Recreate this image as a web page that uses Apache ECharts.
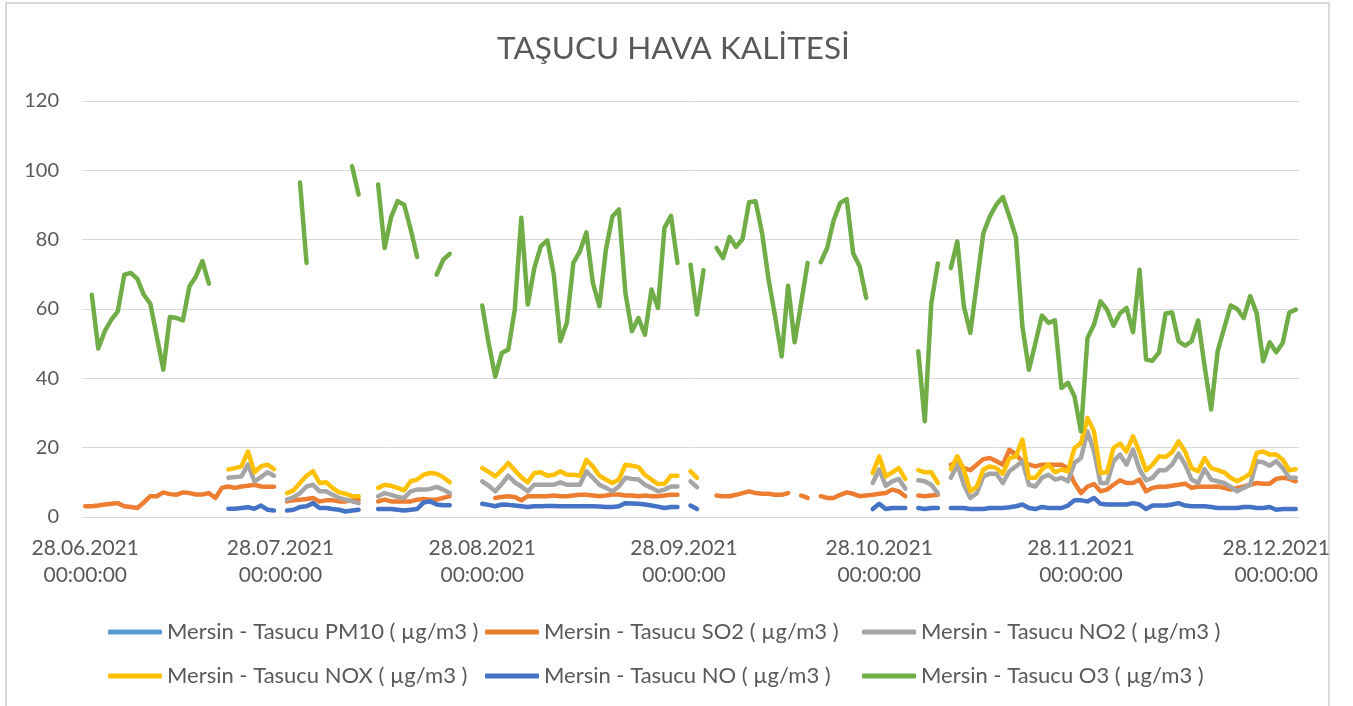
<!DOCTYPE html>
<html>
<head>
<meta charset="utf-8">
<title>TAŞUCU HAVA KALİTESİ</title>
<script src="https://cdn.jsdelivr.net/npm/echarts@6/dist/echarts.min.js"></script>
<style>
  html, body { margin: 0; padding: 0; background: #fff; }
  #chart { width: 1353px; height: 706px; }
</style>
</head>
<body>
<div id="chart"></div>
<script>
// gunluk veriler: 28.06.2021 - 31.12.2021 (187 gun)
var startDay = [2021, 5, 28];
var dayCount = 187;

var seriesNames = [
    'Mersin - Tasucu PM10 ( µg/m3 )',
    'Mersin - Tasucu SO2 ( µg/m3 )',
    'Mersin - Tasucu NO2 ( µg/m3 )',
    'Mersin - Tasucu NOX ( µg/m3 )',
    'Mersin - Tasucu NO ( µg/m3 )',
    'Mersin - Tasucu O3 ( µg/m3 )'
];
var seriesColors = ['#5B9BD5', '#ED7D31', '#A5A5A5', '#FFC000', '#4472C4', '#70AD47'];

var yTicks = [0, 20, 40, 60, 80, 100, 120];

// PM10 olcumu yok
var pm10 = [];

var so2 = [
    3.1, 3.1, 3.3, 3.6, 3.8, 4.0, 3.1, 2.9, 2.6, 4.2,
    6.0, 6.0, 7.1, 6.6, 6.4, 7.1, 6.9, 6.5, 6.5, 6.9,
    5.5, 8.4, 8.8, 8.4, 8.8, 9.0, 9.3, 8.8, 8.7, 8.7,
    null, 4.5, 4.8, 5.0, 5.2, 5.5, 4.5, 4.8, 4.8, 4.5,
    4.5, 4.8, 5.0, null, null, 4.5, 5.0, 4.5, 4.5, 4.5,
    4.5, 5.0, 5.2, 5.0, 5.0, 5.5, 6.0, null, null, null,
    null, null, null, 5.5, 5.8, 6.0, 5.8, 4.8, 6.0, 6.0,
    6.0, 6.0, 6.2, 6.0, 6.0, 6.2, 6.4, 6.4, 6.2, 6.0,
    6.2, 6.5, 6.5, 6.2, 6.2, 6.0, 6.2, 6.0, 6.0, 6.2,
    6.4, 6.4, null, null, null, null, null, 6.2, 6.0, 6.0,
    6.4, 6.9, 7.4, 6.9, 6.7, 6.7, 6.4, 6.4, 6.9, null,
    6.2, 5.5, null, 6.0, 5.5, 5.5, 6.4, 7.1, 6.7, 6.0,
    6.2, 6.4, 6.7, 6.9, 7.9, 7.4, 6.0, null, 6.2, 6.0,
    6.2, 6.4, null, 15.1, 15.6, 14.1, 13.5, 15.1, 16.7, 17.0,
    16.1, 15.1, 19.4, 18.0, 16.1, 15.1, 14.6, 15.1, 15.1, 15.1,
    15.1, 14.1, 9.8, 6.9, 8.8, 9.5, 7.4, 7.9, 9.3, 10.6,
    9.8, 9.8, 10.8, 7.4, 8.4, 8.7, 8.7, 9.0, 9.3, 9.6,
    8.4, 8.8, 8.7, 8.7, 8.8, 8.4, 7.9, 8.4, 8.8, 9.3,
    9.8, 9.6, 9.6, 11.0, 11.3, 11.0, 10.3
];

var no2 = [
    null, null, null, null, null, null, null, null, null, null,
    null, null, null, null, null, null, null, null, null, null,
    null, null, 11.3, 11.5, 11.7, 15.1, 10.3, 11.5, 12.9, 11.9,
    null, 5.0, 5.7, 6.9, 8.8, 9.3, 7.4, 7.4, 6.4, 5.5,
    5.0, 4.5, 4.0, null, null, 6.0, 6.9, 6.4, 5.8, 5.5,
    7.4, 7.9, 7.9, 8.1, 8.7, 7.9, 6.9, null, null, null,
    null, 10.3, 9.0, 7.4, 9.5, 11.9, 10.0, 8.8, 7.4, 9.3,
    9.3, 9.3, 9.3, 10.0, 9.3, 9.3, 9.3, 13.2, 11.3, 9.3,
    8.4, 7.4, 8.8, 11.3, 11.0, 10.8, 9.3, 8.4, 7.4, 7.9,
    8.8, 8.8, null, 10.3, 8.6, null, null, null, null, null,
    null, null, null, null, null, null, null, null, null, null,
    null, null, null, null, null, null, null, null, null, null,
    null, 9.8, 13.7, 9.0, 10.3, 11.0, 8.2, null, 10.6, 10.3,
    9.3, 6.9, null, 11.3, 15.1, 9.3, 5.5, 6.9, 11.7, 12.5,
    12.5, 9.8, 13.2, 14.6, 16.1, 9.3, 8.8, 11.3, 12.2, 10.8,
    11.3, 10.3, 15.6, 17.0, 24.7, 18.9, 9.8, 9.8, 16.1, 18.0,
    15.1, 19.4, 13.7, 10.6, 11.3, 13.5, 13.5, 15.1, 18.3, 15.1,
    10.8, 9.8, 13.8, 10.8, 10.3, 9.8, 8.7, 7.4, 8.4, 9.3,
    16.1, 15.8, 14.8, 16.1, 14.1, 11.3, 11.3
];

var nox = [
    null, null, null, null, null, null, null, null, null, null,
    null, null, null, null, null, null, null, null, null, null,
    null, null, 13.7, 14.1, 14.6, 18.9, 12.9, 14.6, 15.1, 13.8,
    null, 6.9, 7.7, 9.8, 11.9, 13.2, 9.8, 10.0, 8.4, 7.1,
    6.7, 6.0, 6.0, null, null, 8.4, 9.3, 9.0, 8.4, 7.7,
    10.3, 10.8, 12.2, 12.7, 12.5, 11.5, 10.0, null, null, null,
    null, 14.1, 13.0, 11.7, 13.5, 15.6, 13.5, 11.5, 10.0, 12.7,
    12.9, 11.9, 12.2, 13.2, 12.2, 12.2, 11.9, 16.5, 14.6, 11.9,
    10.8, 9.8, 10.8, 15.1, 14.8, 14.4, 12.2, 10.8, 9.5, 9.6,
    11.9, 11.9, null, 13.2, 11.3, null, null, null, null, null,
    null, null, null, null, null, null, null, null, null, null,
    null, null, null, null, null, null, null, null, null, null,
    null, 12.7, 17.5, 11.7, 12.9, 14.1, 11.0, null, 13.5, 12.9,
    12.9, 9.8, null, 13.8, 17.5, 13.7, 7.4, 8.8, 13.7, 14.6,
    14.1, 12.5, 17.0, 17.5, 22.3, 11.3, 11.3, 13.7, 15.1, 12.9,
    13.7, 13.2, 19.9, 21.3, 28.6, 24.7, 12.7, 12.9, 19.9, 21.2,
    18.9, 23.3, 18.7, 13.5, 15.1, 17.5, 17.3, 18.7, 21.8, 18.9,
    14.1, 13.2, 17.0, 14.1, 13.5, 12.9, 11.3, 10.3, 11.3, 12.5,
    18.5, 18.9, 18.0, 18.0, 16.5, 13.5, 13.8
];

var no = [
    null, null, null, null, null, null, null, null, null, null,
    null, null, null, null, null, null, null, null, null, null,
    null, null, 2.4, 2.4, 2.6, 2.8, 2.4, 3.3, 2.1, 1.9,
    null, 1.9, 2.1, 2.9, 3.1, 4.0, 2.6, 2.6, 2.3, 2.1,
    1.6, 1.9, 2.1, null, null, 2.3, 2.3, 2.3, 2.1, 1.9,
    2.1, 2.3, 4.2, 4.5, 3.6, 3.4, 3.4, null, null, null,
    null, 3.8, 3.5, 3.1, 3.6, 3.5, 3.3, 3.1, 2.9, 3.1,
    3.1, 3.2, 3.2, 3.1, 3.1, 3.1, 3.1, 3.1, 3.1, 3.0,
    2.9, 2.9, 3.1, 4.0, 3.9, 3.8, 3.6, 3.3, 3.0, 2.6,
    2.9, 2.9, null, 3.3, 2.3, null, null, null, null, null,
    null, null, null, null, null, null, null, null, null, null,
    null, null, null, null, null, null, null, null, null, null,
    null, 2.3, 3.8, 2.3, 2.6, 2.6, 2.6, null, 2.6, 2.3,
    2.6, 2.6, null, 2.6, 2.6, 2.6, 2.3, 2.3, 2.3, 2.6,
    2.6, 2.6, 2.8, 3.1, 3.6, 2.6, 2.3, 2.9, 2.6, 2.6,
    2.6, 3.3, 4.8, 4.8, 4.5, 5.5, 3.8, 3.6, 3.6, 3.6,
    3.6, 4.0, 3.6, 2.3, 3.3, 3.3, 3.3, 3.6, 4.0, 3.3,
    3.1, 3.1, 3.1, 2.9, 2.6, 2.6, 2.6, 2.6, 2.9, 2.9,
    2.6, 2.6, 2.9, 2.1, 2.3, 2.3, 2.3
];

var o3 = [
    null, 64.1, 48.6, 53.6, 56.9, 59.3, 69.9, 70.4, 68.7, 64.1,
    61.5, 52.0, 42.5, 57.7, 57.4, 56.7, 66.5, 69.4, 73.8, 67.3,
    null, null, null, null, null, null, null, null, null, null,
    null, null, null, 96.5, 73.3, null, null, null, null, null,
    null, 101.2, 93.0, null, null, 95.9, 77.6, 86.5, 91.1, 90.1,
    83.0, 75.0, null, null, 69.9, 74.2, 75.9, null, null, null,
    null, 61.0, 50.0, 40.5, 47.3, 48.3, 59.8, 86.3, 61.3, 71.8,
    78.1, 79.8, 69.9, 50.7, 56.0, 73.3, 76.6, 82.1, 67.5, 60.8,
    77.1, 86.7, 88.7, 64.6, 53.6, 57.4, 52.6, 65.6, 60.3, 83.4,
    86.9, 73.3, null, 72.8, 58.4, 71.2, null, 77.6, 74.7, 80.8,
    77.9, 80.2, 90.8, 91.1, 81.9, 68.5, 57.9, 46.3, 66.7, 50.4,
    61.7, 73.3, null, 73.5, 77.6, 85.6, 90.6, 91.7, 76.0, 72.3,
    63.2, null, null, null, null, null, null, null, 47.8, 27.6,
    61.7, 73.1, null, 71.8, 79.5, 60.8, 53.1, 67.5, 81.9, 86.7,
    90.1, 92.3, 86.7, 80.8, 55.0, 42.5, 50.2, 58.1, 56.0, 56.7,
    37.2, 38.7, 34.8, 24.7, 51.6, 55.5, 62.2, 59.8, 55.2, 58.8,
    60.3, 53.3, 71.3, 45.4, 45.1, 47.5, 58.7, 59.0, 50.7, 49.4,
    50.7, 56.7, 43.5, 31.0, 47.8, 54.5, 61.0, 60.0, 57.4, 63.7,
    58.8, 44.9, 50.4, 47.5, 50.2, 59.0, 59.8
];

// tarih etiketleri
var dates = [];
for (var d = 0; d < dayCount; d++) {
    var dt = new Date(Date.UTC(startDay[0], startDay[1], startDay[2] + d));
    var dd = ('0' + dt.getUTCDate()).slice(-2);
    var mm = ('0' + (dt.getUTCMonth() + 1)).slice(-2);
    dates.push(dd + '.' + mm + '.' + dt.getUTCFullYear());
}

var textColor = '#595959';
var gridColor = '#D9D9D9';
var fontFamily = 'Lato, "Noto Sans", sans-serif';

var allData = [pm10, so2, no2, nox, no, o3];

var series = allData.map(function(arr, i) {
    return {
        name: seriesNames[i],
        type: 'line',
        data: arr,
        symbol: 'none',
        connectNulls: false,
        lineStyle: {
            width: 4.5,
            color: seriesColors[i],
            cap: 'round',
            join: 'round'
        },
        itemStyle: { color: seriesColors[i] },
        emphasis: { disabled: true }
    };
});

// lejant: 2 satir x 3 kolon
var legendLefts = [108, 485, 862];
var legendTops = [621, 665];
var legends = seriesNames.map(function(name, i) {
    return {
        data: [name],
        left: legendLefts[i % 3],
        top: legendTops[Math.floor(i / 3)],
        padding: 0,
        icon: 'roundRect',
        itemWidth: 54,
        itemHeight: 5,
        selectedMode: false,
        textStyle: {
            color: textColor,
            fontSize: 22,
            fontFamily: fontFamily
        }
    };
});

var isMonthTick = function(index, value) {
    return value.slice(0, 2) === '28';
};

var dom = document.getElementById('chart');
var myChart = echarts.init(dom, null, { renderer: 'canvas' });

var option = {
    animation: false,
    backgroundColor: '#ffffff',
    color: seriesColors,
    title: {
        text: 'TAŞUCU HAVA KALİTESİ',
        left: 492,
        top: 28,
        textStyle: {
            color: textColor,
            fontSize: 31.5,
            fontWeight: 'normal',
            fontFamily: fontFamily
        }
    },
    graphic: [{
        type: 'rect',
        silent: true,
        shape: { x: 6, y: 3, width: 1323, height: 720 },
        style: { fill: 'none', stroke: gridColor, lineWidth: 2 }
    }],
    legend: legends,
    grid: {
        left: 82,
        right: 54,
        top: 101,
        bottom: 189,
        containLabel: false
    },
    xAxis: {
        type: 'category',
        data: dates,
        boundaryGap: true,
        axisLine: { lineStyle: { color: gridColor, width: 1 } },
        axisTick: {
            interval: isMonthTick,
            length: 5,
            lineStyle: { color: gridColor }
        },
        axisLabel: {
            interval: isMonthTick,
            color: textColor,
            fontSize: 21,
            lineHeight: 27,
            margin: 18,
            fontFamily: fontFamily,
            formatter: function(value) {
                return value + '\n00:00:00';
            }
        },
        splitLine: { show: false }
    },
    yAxis: {
        type: 'value',
        min: yTicks[0],
        max: yTicks[yTicks.length - 1],
        interval: 20,
        axisLine: { show: false },
        axisTick: { show: false },
        axisLabel: {
            color: textColor,
            fontSize: 20,
            margin: 23,
            fontFamily: fontFamily
        },
        splitLine: { lineStyle: { color: gridColor, width: 1 } }
    },
    series: series
};

if (option && typeof option === 'object') {
    myChart.setOption(option, true);
}

window.addEventListener('resize', function() {
    myChart.resize();
});
</script>
</body>
</html>
